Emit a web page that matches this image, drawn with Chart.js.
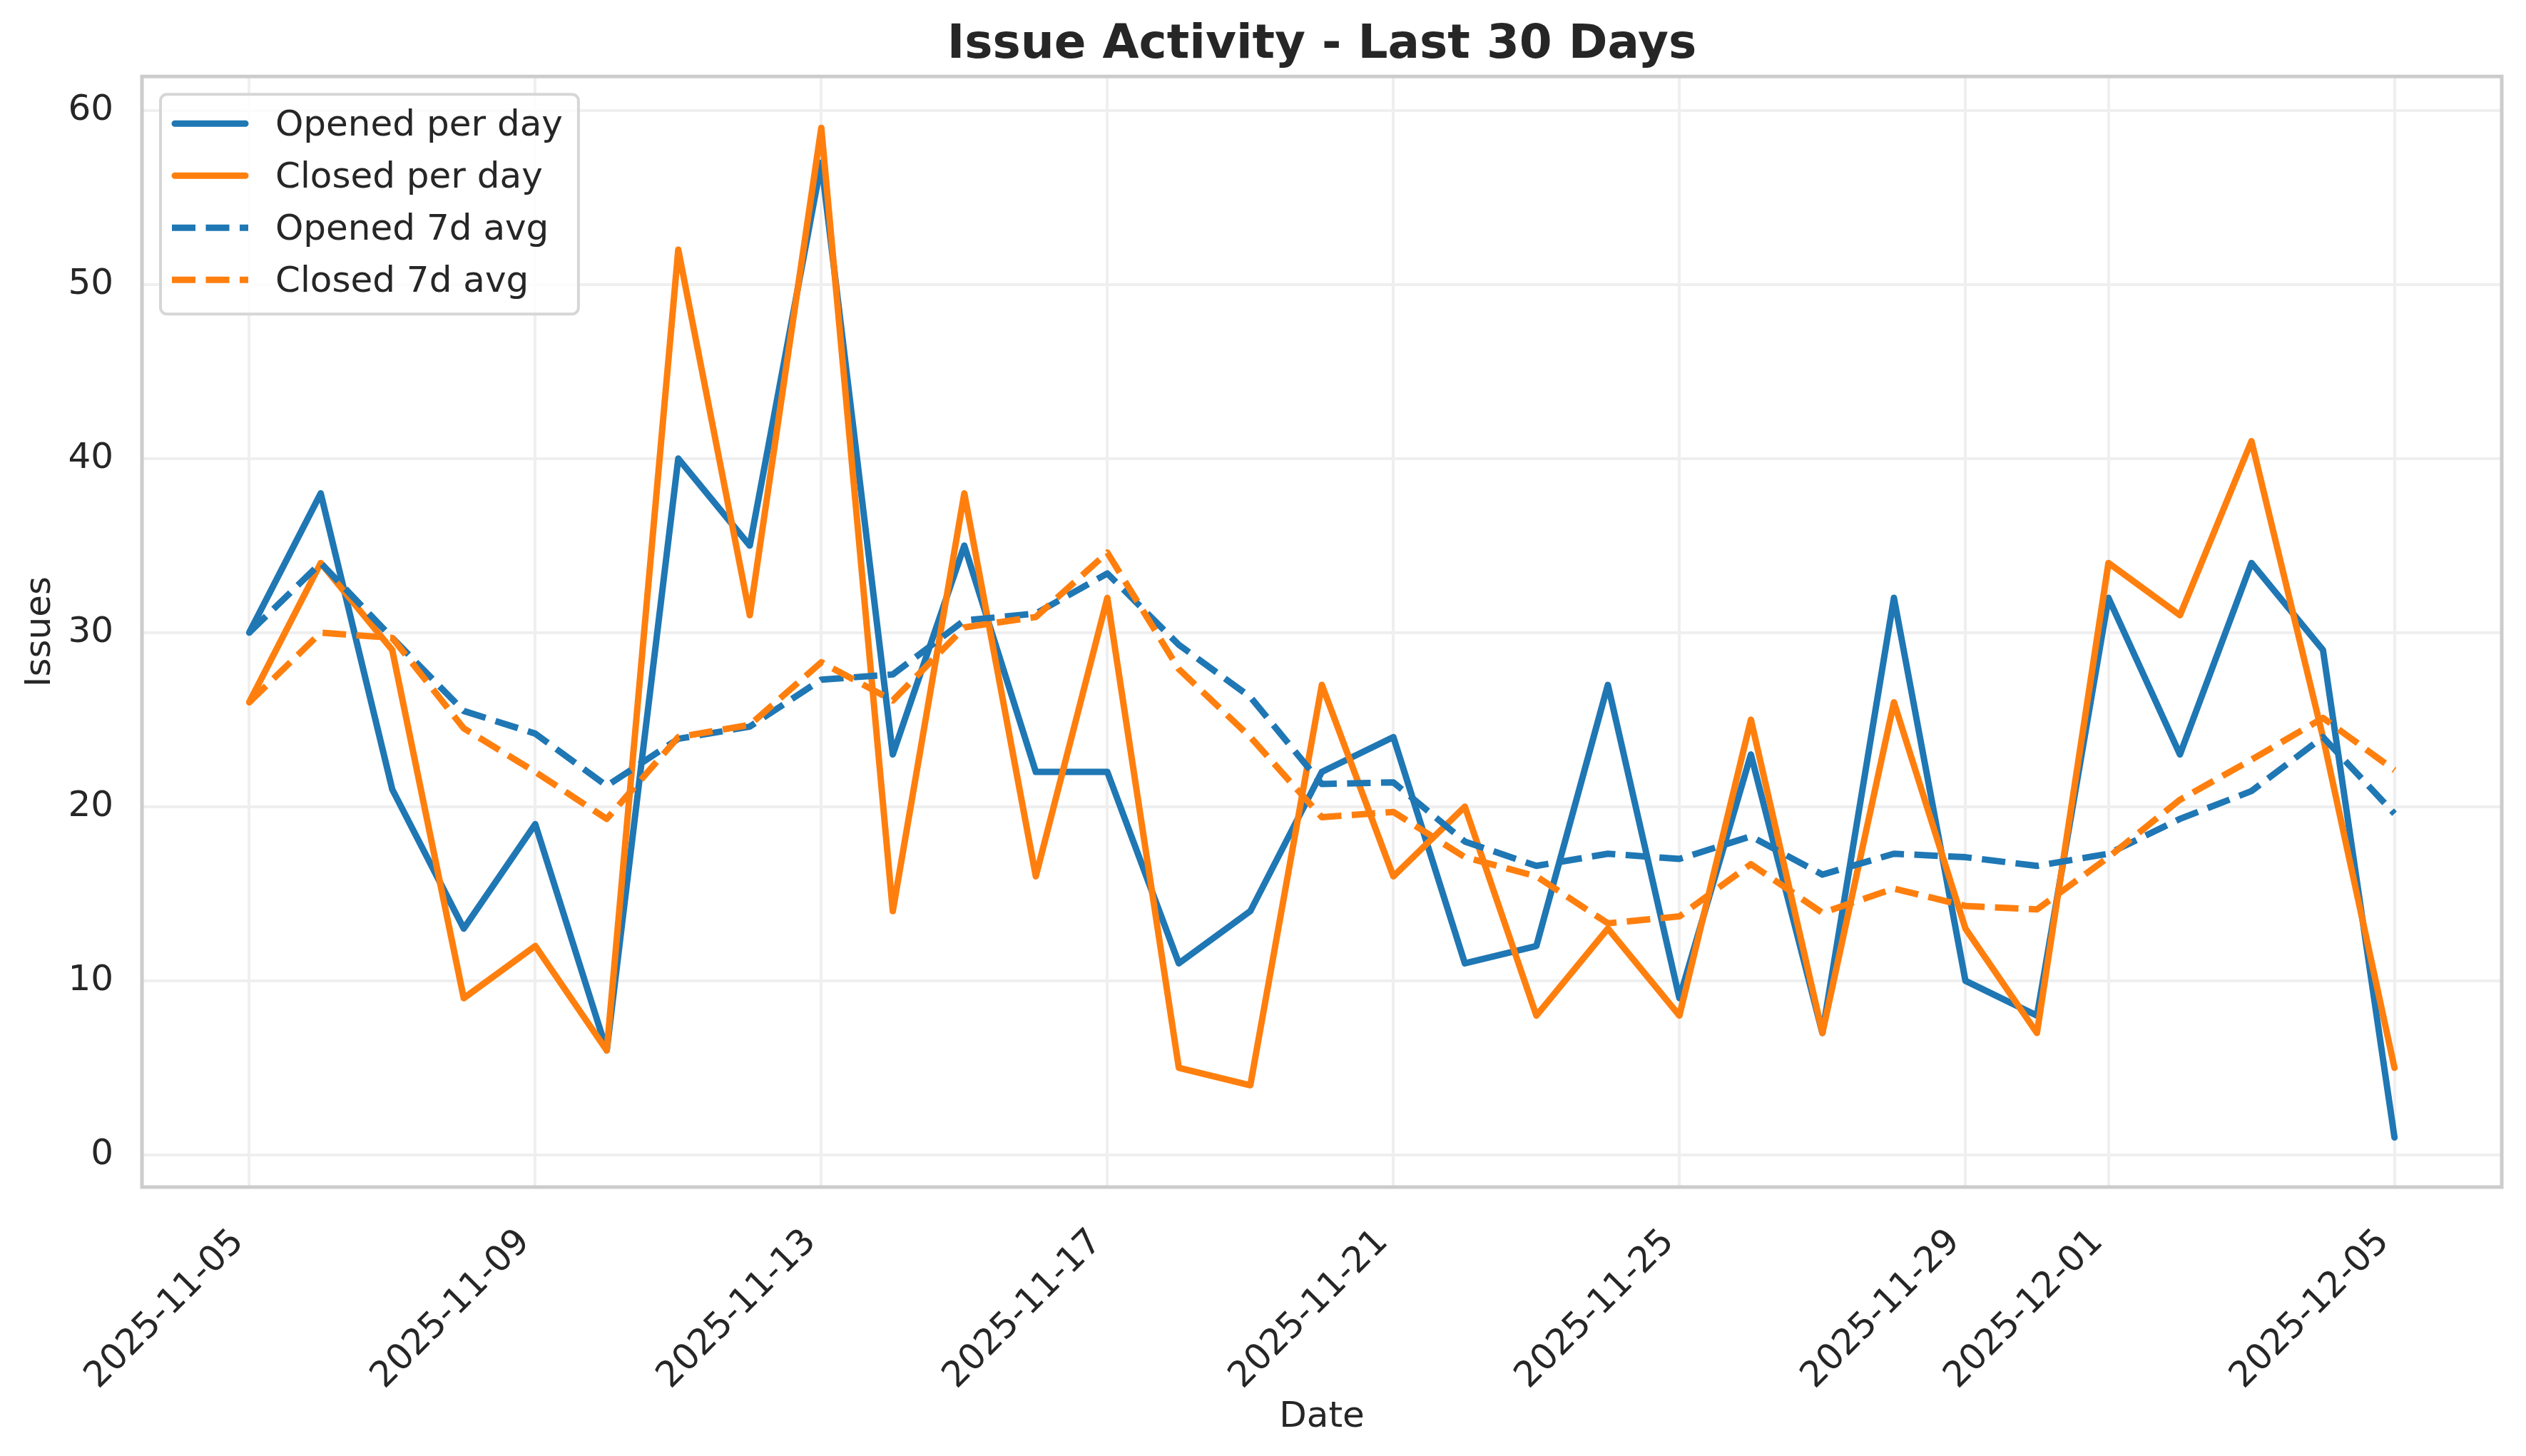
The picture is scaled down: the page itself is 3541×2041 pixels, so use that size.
<!DOCTYPE html>
<html>
<head>
<meta charset="utf-8">
<title>Issue Activity - Last 30 Days</title>
<script src="https://cdn.jsdelivr.net/npm/chart.js@4.4.1/dist/chart.umd.min.js"></script>
<style>
    html, body { margin: 0; padding: 0; background: #ffffff; }
    #chartWrap { width: 3541px; height: 2041px; }
</style>
</head>
<body>
<div id="chartWrap"><canvas id="issueChart" width="3541" height="2041" style="width:3541px;height:2041px"></canvas></div>
<script>
// --- Data ---
const dates = [
    '2025-11-05', '2025-11-06', '2025-11-07', '2025-11-08', '2025-11-09', '2025-11-10', '2025-11-11',
    '2025-11-12', '2025-11-13', '2025-11-14', '2025-11-15', '2025-11-16', '2025-11-17', '2025-11-18',
    '2025-11-19', '2025-11-20', '2025-11-21', '2025-11-22', '2025-11-23', '2025-11-24', '2025-11-25',
    '2025-11-26', '2025-11-27', '2025-11-28', '2025-11-29', '2025-11-30', '2025-12-01', '2025-12-02',
    '2025-12-03', '2025-12-04', '2025-12-05'
];
const openedPerDay = [30, 38, 21, 13, 19, 6, 40, 35, 57, 23, 35, 22, 22, 11, 14, 22, 24, 11, 12, 27, 9, 23, 7, 32, 10, 8, 32, 23, 34, 29, 1];
const closedPerDay = [26, 34, 29, 9, 12, 6, 52, 31, 59, 14, 38, 16, 32, 5, 4, 27, 16, 20, 8, 13, 8, 25, 7, 26, 13, 7, 34, 31, 41, 24, 5];
const openedAvg7 = [30, 34, 29.7, 25.5, 24.2, 21.2, 23.9, 24.6, 27.3, 27.6, 30.7, 31.1, 33.4, 29.3, 26.3, 21.3,
    21.4, 18.0, 16.6, 17.3, 17.0, 18.3, 16.1, 17.3, 17.1, 16.6, 17.3, 19.3, 20.9, 24.0, 19.6];
const closedAvg7 = [26, 30, 29.7, 24.5, 22.0, 19.3, 24.0, 24.7, 28.3, 26.1, 30.3, 30.9, 34.6, 27.9, 24.0, 19.4,
    19.7, 17.1, 16.0, 13.3, 13.7, 16.7, 13.9, 15.3, 14.3, 14.1, 17.1, 20.4, 22.7, 25.1, 22.1];

// tick positions (index into dates) and y tick values
const xTickIndex = [0, 4, 8, 12, 16, 20, 24, 26, 30];
const yTicks = [0, 10, 20, 30, 40, 50, 60];

document.addEventListener('DOMContentLoaded', function() {
    const FONT = '"DejaVu Sans", "Noto Sans", sans-serif';
    const TEXT = '#262626';
    const BLUE = '#1f77b4';
    const ORANGE = '#ff7f0e';
    const GRID = '#efefef';

    const toPoints = vals => vals.map((v, i) => ({ x: i, y: v }));

    // --- Plugins ---
    // axes frame (matplotlib spines), drawn over the lines
    const frame = {
        id: 'frame',
        afterDatasetsDraw(chart) {
            const { ctx, chartArea: a } = chart;
            ctx.save();
            ctx.strokeStyle = '#cccccc';
            ctx.lineWidth = 5;
            ctx.strokeRect(a.left, a.top, a.right - a.left, a.bottom - a.top);
            ctx.restore();
        }
    };

    // legend box in the upper left corner of the plot
    const insideLegend = {
        id: 'insideLegend',
        afterDraw(chart) {
            const { ctx, chartArea } = chart;
            const sets = chart.data.datasets;
            const left = chartArea.left + 26;
            const top = chartArea.top + 25;
            const rowH = 73;
            ctx.save();
            ctx.font = '50px ' + FONT;
            const textW = Math.max(...sets.map(ds => ctx.measureText(ds.label).width));
            const w = 161 + textW + 22;
            const h = 308;
            ctx.beginPath();
            ctx.roundRect(left, top, w, h, 9);
            ctx.fillStyle = 'rgba(255,255,255,0.8)';
            ctx.fill();
            ctx.lineWidth = 4;
            ctx.strokeStyle = '#d6d6d6';
            ctx.stroke();

            sets.forEach((ds, i) => {
                const y = top + 41 + i * rowH;
                ctx.beginPath();
                ctx.strokeStyle = ds.borderColor;
                ctx.lineWidth = ds.borderWidth;
                if (ds.borderDash) {
                    ctx.setLineDash(ds.borderDash);
                    ctx.lineCap = 'butt';
                    ctx.moveTo(left + 16, y);
                    ctx.lineTo(left + 123, y);
                } else {
                    ctx.setLineDash([]);
                    ctx.lineCap = 'round';
                    ctx.moveTo(left + 20, y);
                    ctx.lineTo(left + 119, y);
                }
                ctx.stroke();
                ctx.setLineDash([]);
                ctx.fillStyle = TEXT;
                ctx.textBaseline = 'alphabetic';
                ctx.textAlign = 'left';
                ctx.fillText(ds.label, left + 161, y + 17);
            });
            ctx.restore();
        }
    };

    const solid = (label, vals, color, order) => ({
        label: label, data: toPoints(vals), borderColor: color, backgroundColor: color,
        borderWidth: 9, pointRadius: 0, tension: 0, order: order,
        borderCapStyle: 'round', borderJoinStyle: 'round'
    });
    const dashed = (label, vals, color, order) => ({
        label: label, data: toPoints(vals), borderColor: color, backgroundColor: color,
        borderWidth: 9, pointRadius: 0, tension: 0, order: order,
        borderDash: [33, 14.5], borderCapStyle: 'butt', borderJoinStyle: 'round'
    });

    const ctx = document.getElementById('issueChart').getContext('2d');
    new Chart(ctx, {
        type: 'line',
        data: {
            datasets: [
                solid('Opened per day', openedPerDay, BLUE, 4),
                solid('Closed per day', closedPerDay, ORANGE, 3),
                dashed('Opened 7d avg', openedAvg7, BLUE, 2),
                dashed('Closed 7d avg', closedAvg7, ORANGE, 1)
            ]
        },
        options: {
            responsive: false,
            devicePixelRatio: 1,
            animation: false,
            layout: { padding: { left: 0, top: 0, right: 34, bottom: 0 } },
            plugins: {
                legend: { display: false },
                tooltip: { enabled: false },
                title: {
                    display: true,
                    text: 'Issue Activity - Last 30 Days',
                    fullSize: false,
                    color: TEXT,
                    font: { family: FONT, size: 66, weight: 'bold' },
                    padding: { top: 24, bottom: 4 }
                }
            },
            scales: {
                x: {
                    type: 'linear',
                    min: -1.5,
                    max: 31.5,
                    afterBuildTicks: scale => { scale.ticks = xTickIndex.map(v => ({ value: v })); },
                    afterFit: scale => { scale.height = 377; },
                    grid: { color: GRID, lineWidth: 4, drawTicks: false },
                    border: { display: false },
                    ticks: {
                        autoSkip: false,
                        maxRotation: 45,
                        minRotation: 45,
                        padding: 48,
                        labelOffset: -15,
                        color: TEXT,
                        font: { family: FONT, size: 50 },
                        callback: value => dates[value]
                    },
                    title: {
                        display: true, text: 'Date', color: TEXT,
                        font: { family: FONT, size: 50 },
                        padding: { top: 0, bottom: 24 }
                    }
                },
                y: {
                    min: -1.85,
                    max: 61.95,
                    afterBuildTicks: scale => { scale.ticks = yTicks.map(v => ({ value: v })); },
                    afterFit: scale => { scale.width = 199; },
                    grid: { color: GRID, lineWidth: 4, drawTicks: false },
                    border: { display: false },
                    ticks: {
                        padding: 40,
                        color: TEXT,
                        font: { family: FONT, size: 50 }
                    },
                    title: {
                        display: true, text: 'Issues', color: TEXT,
                        font: { family: FONT, size: 50 },
                        padding: { top: 27, bottom: 0 }
                    }
                }
            }
        },
        plugins: [frame, insideLegend]
    });
});
</script>
</body>
</html>
